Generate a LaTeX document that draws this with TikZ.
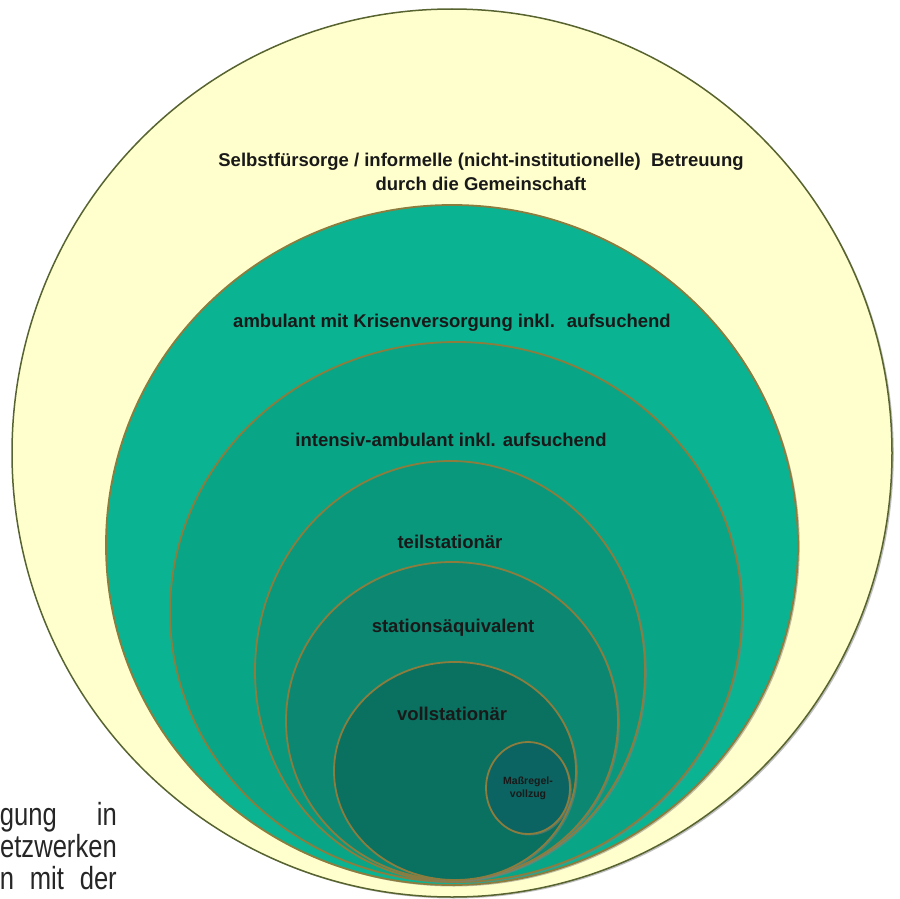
\documentclass[tikz,border=0pt]{standalone}
\usepackage{fontspec}
\setmainfont{Liberation Sans}
\newfontfamily\narrowfont[FakeStretch=0.8]{Liberation Sans}
\usetikzlibrary{shadows}

\definecolor{paleyellow}{RGB}{255,255,206}
\definecolor{outerline}{RGB}{88,100,48}
\definecolor{ringline}{RGB}{140,124,62}
\definecolor{ambcol}{RGB}{10,180,146}
\definecolor{intcol}{RGB}{8,165,135}
\definecolor{teilcol}{RGB}{10,152,125}
\definecolor{aequcol}{RGB}{12,136,114}
\definecolor{vollcol}{RGB}{10,112,96}
\definecolor{masscol}{RGB}{12,100,98}

\tikzset{
    ring/.style={draw=ringline, line width=1.8pt,
        drop shadow={shadow xshift=1.8pt, shadow yshift=-1.5pt, opacity=0.5}},
    lbl/.style={font=\bfseries\fontsize{18.5}{24}\selectfont, text=black!90, align=center},
    txt/.style={font=\narrowfont\fontsize{32}{32}\selectfont, text=black!85, anchor=base east, inner sep=0pt},
}

\begin{document}
\begin{tikzpicture}[x=1pt,y=-1pt]
    \useasboundingbox (0,0) rectangle (900,899);
    \fill[white] (0,0) rectangle (900,899);

    % rings, outside in
    \draw[ring, draw=outerline, line width=1.5pt, fill=paleyellow] (452,453) ellipse (440pt and 444pt);
    \draw[ring, fill=ambcol] (452,545) ellipse (346pt and 340pt);
    \draw[ring, fill=intcol] (456,612) ellipse (286pt and 270pt);
    \draw[ring, fill=teilcol] (450,671) ellipse (195pt and 210pt);
    \draw[ring, fill=aequcol] (452,721) ellipse (166pt and 159pt);
    \draw[ring, fill=vollcol] (455,771) ellipse (121pt and 109pt);
    \draw[ring, fill=masscol] (528,788) ellipse (42pt and 46pt);

    \node[lbl] (selbst) at (481,172) {Selbstfürsorge / informelle (nicht-institutionelle)~ Betreuung\\durch die Gemeinschaft};
    \node[lbl] (amb) at (452,323) {ambulant mit Krisenversorgung inkl.~ aufsuchend};
    \node[lbl] (int) at (451,440) {intensiv-ambulant inkl. aufsuchend};
    \node[lbl] (teil) at (450,542) {teilstationär};
    \node[lbl] (aequ) at (453,628) {stationsäquivalent};
    \node[lbl] (voll) at (452,714) {vollstationär};
    \node[lbl, font=\bfseries\fontsize{10.5}{13}\selectfont] (mass) at (528,788) {Maßregel-\\vollzug};

    % text of the page beside the picture
    \node[txt] (zeile1) at (117,825) {\makebox[117pt][s]{gung in}};
    \node[txt] (zeile2) at (117,857) {etzwerken};
    \node[txt] (zeile3) at (117,889) {\makebox[117pt][s]{n mit der}};
\end{tikzpicture}
\end{document}
